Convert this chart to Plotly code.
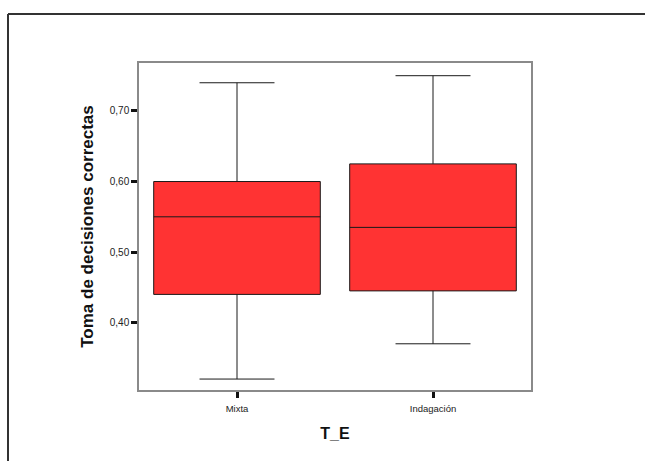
import plotly.graph_objects as go

# Summary statistics per group (T_E)
groups = ["Mixta", "Indagación"]
lower_whisker = [0.32, 0.37]
q1 = [0.44, 0.445]
median = [0.55, 0.535]
q3 = [0.60, 0.625]
upper_whisker = [0.74, 0.75]

y_ticks = [0.40, 0.50, 0.60, 0.70]

fig = go.Figure()
fig.add_trace(go.Box(
    x=groups,
    q1=q1,
    median=median,
    q3=q3,
    lowerfence=lower_whisker,
    upperfence=upper_whisker,
    fillcolor="#ff3333",
    line=dict(color="#1a1a1a", width=1),
    width=0.85,
    whiskerwidth=0.45,
    boxpoints=False,
    hoverinfo="skip",
    showlegend=False,
))

font_family = "Liberation Sans, Arial, sans-serif"

fig.update_layout(
    width=645,
    height=461,
    margin=dict(l=139, r=114, t=63, b=71),
    paper_bgcolor="white",
    plot_bgcolor="white",
    separators=",.",
    font=dict(family=font_family, color="#222"),
    xaxis=dict(
        type="category",
        range=[-0.5, 1.5],
        showline=True, linecolor="#8a8a8a", linewidth=1.5, mirror=True,
        ticks="outside", ticklen=6, tickwidth=3, tickcolor="#111",
        tickfont=dict(size=9.5, color="#222"),
        ticklabelstandoff=3,
        showgrid=False, zeroline=False,
        title=dict(text="<b>T_E</b>", font=dict(size=16, color="#111"), standoff=15),
    ),
    yaxis=dict(
        range=[0.3045, 0.768],
        tickvals=y_ticks,
        tickformat=".2f",
        showline=True, linecolor="#8a8a8a", linewidth=1.5, mirror=True,
        ticks="outside", ticklen=6, tickwidth=3, tickcolor="#111",
        tickfont=dict(size=10, color="#222"),
        showgrid=False, zeroline=False,
        title=dict(text="<b>Toma de decisiones correctas</b>",
                   font=dict(size=17, color="#111"), standoff=12),
    ),
)

# Outer chart frame (top and left edges)
plot_w = 645 - 139 - 114
plot_h = 461 - 63 - 71
x_left = (8 - 139) / plot_w
y_top = 1 + (63 - 14) / plot_h
fig.add_shape(type="line", xref="paper", yref="paper",
              x0=x_left, x1=(650 - 139) / plot_w, y0=y_top, y1=y_top,
              line=dict(color="#333", width=2))
fig.add_shape(type="line", xref="paper", yref="paper",
              x0=x_left, x1=x_left, y0=y_top, y1=-(466 - 390) / plot_h,
              line=dict(color="#333", width=2))

fig.write_html("out.html")
